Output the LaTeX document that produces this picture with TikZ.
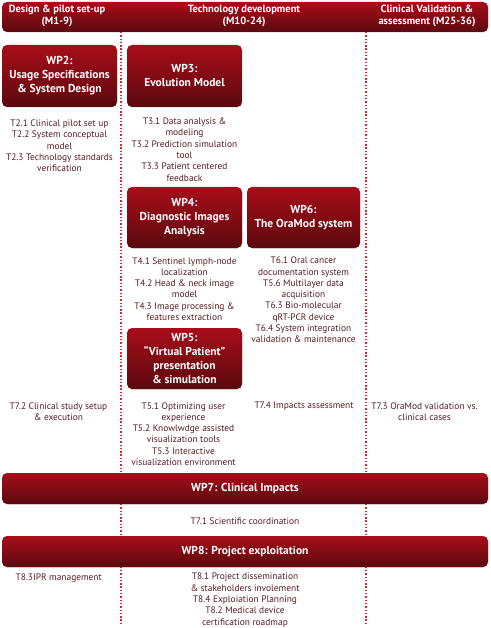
\documentclass[tikz,border=0pt]{standalone}
\usepackage{fontspec}
\setmainfont{PT Sans}
\usetikzlibrary{shadows}
\definecolor{wpTop}{HTML}{A80D19}
\definecolor{wpBot}{HTML}{5A0A0E}
\definecolor{taskCol}{HTML}{5A1C20}
\definecolor{dotCol}{HTML}{E3202B}
\begin{document}
\begin{tikzpicture}[x=1pt,y=-1pt,
  wpbox/.style={rounded corners=5pt, top color=wpTop, bottom color=wpBot, draw=none,
    text=white, font=\fontsize{11.5}{14}\selectfont\bfseries, align=center, inner sep=0pt,
    drop shadow={opacity=0.2, shadow xshift=0.6pt, shadow yshift=-0.8pt}},
  bar/.style={wpbox, minimum width=486pt},
  hdr/.style={text=white, font=\fontsize{10.5}{12}\selectfont\bfseries, align=center, inner sep=0pt},
  task/.style={text=taskCol, font=\fontsize{9.4}{11.3}\selectfont, align=center, inner sep=0pt},
  sep/.style={draw=dotCol, line width=1.4pt, dash pattern=on 1.4pt off 1.9pt}
]
\useasboundingbox (0,0) rectangle (490,628);
% separators
\coordinate (s1t) at (121,32);
\coordinate (s1b) at (121,623);
\coordinate (s2t) at (366,32);
\coordinate (s2b) at (366,623);
\draw[sep] (s1t) -- (s1b);
\draw[sep] (s2t) -- (s2b);
% header
\node[bar, minimum height=30pt] (hbar) at (245,17) {};
\node[hdr] (h1) at (57,16) {Design \& pilot set-up\\(M1-9)};
\node[hdr] (h2) at (244,16) {Technology development\\(M10-24)};
\node[hdr] (h3) at (427,16) {Clinical Validation \&\\assessment (M25-36)};
% WP boxes
\node[wpbox, minimum width=115pt, minimum height=62pt] (wp2) at (59.5,76) {WP2:\\Usage Specifications\\\& System Design};
\node[wpbox, minimum width=115pt, minimum height=62pt] (wp3) at (184.5,76) {WP3:\\Evolution Model};
\node[wpbox, minimum width=115pt, minimum height=61pt] (wp4) at (184.5,217.5) {WP4:\\Diagnostic Images\\Analysis};
\node[wpbox, minimum width=113pt, minimum height=61pt] (wp6) at (303.5,217.5) {WP6:\\The OraMod system};
\node[wpbox, minimum width=115pt, minimum height=61pt] (wp5) at (184.5,358.5) {WP5:\\“Virtual Patient”\\presentation\\\& simulation};
% tasks
\node[task] (t2) at (59.5,146) {T2.1 Clinical pilot set up\\T2.2 System conceptual\\model\\T2.3 Technology standards\\verification};
\node[task] (t3) at (184.5,149.5) {T3.1 Data analysis \&\\modeling\\T3.2 Prediction simulation\\tool\\T3.3 Patient centered\\feedback};
\node[task] (t4) at (184.5,289) {T4.1 Sentinel lymph-node\\localization\\T4.2 Head \& neck image\\model\\T4.3 Image processing \&\\features extraction};
\node[task] (t6) at (303.5,300) {T6.1 Oral cancer\\documentation system\\T5.6 Multilayer data\\acquisition\\T6.3 Bio-molecular\\qRT-PCR device\\T6.4 System integration\\validation \& maintenance};
\node[task] (t72) at (58.5,411.5) {T7.2 Clinical study setup\\\& execution};
\node[task] (t5) at (183.5,434) {T5.1 Optimizing user\\experience\\T5.2 Knowlwdge assisted\\visualization tools\\T5.3 Interactive\\visualization environment};
\node[task] (t74) at (304,406) {T7.4 Impacts assessment};
\node[task] (t73) at (424.5,411.5) {T7.3 OraMod validation vs.\\clinical cases};
% WP7 / WP8
\node[bar, minimum height=31pt] (wp7) at (245,488.5) {WP7: Clinical Impacts};
\node[task] (t71) at (245,521) {T7.1 Scientific coordination};
\node[bar, minimum height=31pt] (wp8) at (245,551.5) {WP8: Project exploitation};
\node[task] (t83) at (58.7,578) {T8.3IPR management};
\node[task] (t8) at (245,600) {T8.1 Project dissemination\\\& stakeholders involement\\T8.4 Exploiation Planning\\T8.2 Medical device\\certification roadmap};
\end{tikzpicture}
\end{document}
